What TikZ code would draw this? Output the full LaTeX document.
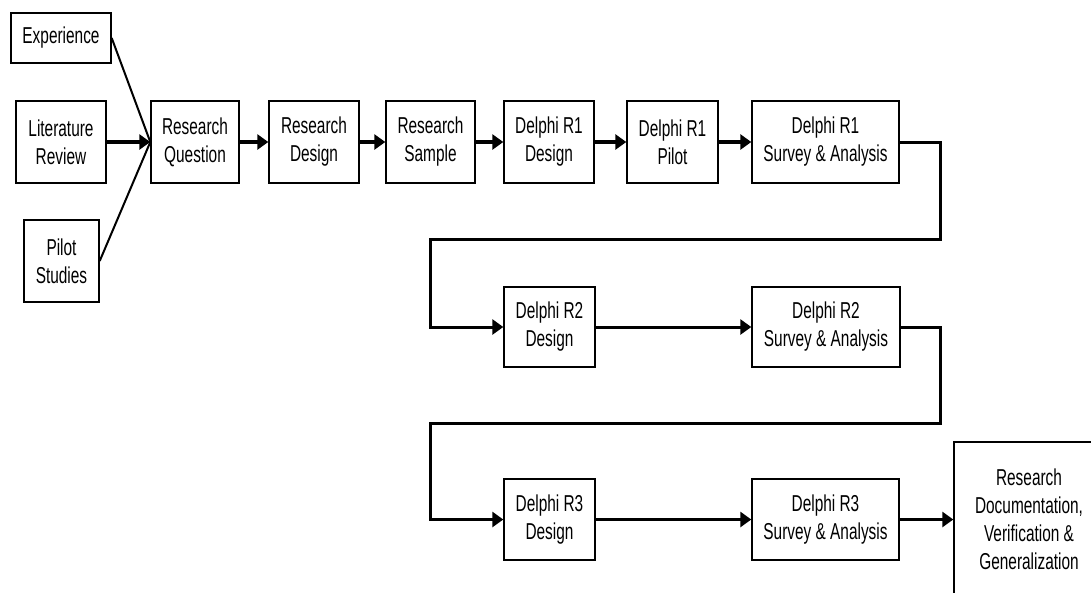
\documentclass[tikz,border=0pt]{standalone}
\usepackage{fontspec}
\setmainfont{Liberation Sans}[FakeStretch=0.67]
\usetikzlibrary{arrows.meta}
\begin{document}
\begin{tikzpicture}[x=1pt,y=-1pt,
  box/.style={draw,line width=1.4pt,inner sep=0pt,align=center,
    font=\fontsize{23}{28}\selectfont},
  flow/.style={line width=3.6pt,-{Triangle[length=11pt,width=15pt]}},
  back/.style={line width=3pt,line join=miter,-{Triangle[length=11pt,width=15pt]}},
  thin/.style={line width=2pt}]
\useasboundingbox (0,0) rectangle (1091,592);
\fill[white] (0,0) rectangle (1091,592);
\node[box,minimum width=100pt,minimum height=50pt] (exp) at (61,38) {Experience};
\node[box,minimum width=90pt,minimum height=82pt] (lit) at (61,142) {Literature\\Review};
\node[box,minimum width=75pt,minimum height=82pt] (pil) at (61.5,261) {Pilot\\Studies};
\node[box,minimum width=88pt,minimum height=82pt] (rq) at (195,142) {Research\\Question};
\node[box,minimum width=90pt,minimum height=82pt] (rd) at (314,142) {Research\\Design};
\node[box,minimum width=89pt,minimum height=82pt] (rs) at (430.5,142) {Research\\Sample};
\node[box,minimum width=90pt,minimum height=82pt] (d1d) at (549,142) {Delphi R1\\Design};
\node[box,minimum width=91pt,minimum height=82pt] (d1p) at (672.5,142) {Delphi R1\\Pilot};
\node[box,minimum width=147pt,minimum height=82pt] (d1s) at (825.5,142) {Delphi R1\\Survey \& Analysis};
\node[box,minimum width=91pt,minimum height=80pt] (d2d) at (549.5,327) {Delphi R2\\Design};
\node[box,minimum width=148pt,minimum height=80pt] (d2s) at (826,327) {Delphi R2\\Survey \& Analysis};
\node[box,minimum width=91pt,minimum height=81pt] (d3d) at (549.5,519.5) {Delphi R3\\Design};
\node[box,minimum width=147pt,minimum height=81pt] (d3s) at (825.5,519.5) {Delphi R3\\Survey \& Analysis};
\node[box,minimum width=150pt,minimum height=154pt] (fin) at (1029,519) {Research\\Documentation,\\Verification \&\\Generalization};
\coordinate (a1) at (940,142);
\coordinate (a2) at (940,239);
\coordinate (a3) at (430,239);
\coordinate (a4) at (430,327);
\coordinate (b1) at (940,327);
\coordinate (b2) at (940,423);
\coordinate (b3) at (430,423);
\coordinate (b4) at (430,519.5);
\draw[thin] (exp.east) -- (rq.west);
\draw[thin] (pil.east) -- (rq.west);
\draw[flow] (lit) -- (rq);
\draw[flow] (rq) -- (rd);
\draw[flow] (rd) -- (rs);
\draw[flow] (rs) -- (d1d);
\draw[flow] (d1d) -- (d1p);
\draw[flow] (d1p) -- (d1s);
\draw[back] (d1s.east) -- (a1) -- (a2) -- (a3) -- (a4) -- (d2d.west);
\draw[back] (d2d) -- (d2s);
\draw[back] (d2s.east) -- (b1) -- (b2) -- (b3) -- (b4) -- (d3d.west);
\draw[back] (d3d) -- (d3s);
\draw[flow] (d3s) -- (d3s.east -| fin.west);
\end{tikzpicture}
\end{document}
